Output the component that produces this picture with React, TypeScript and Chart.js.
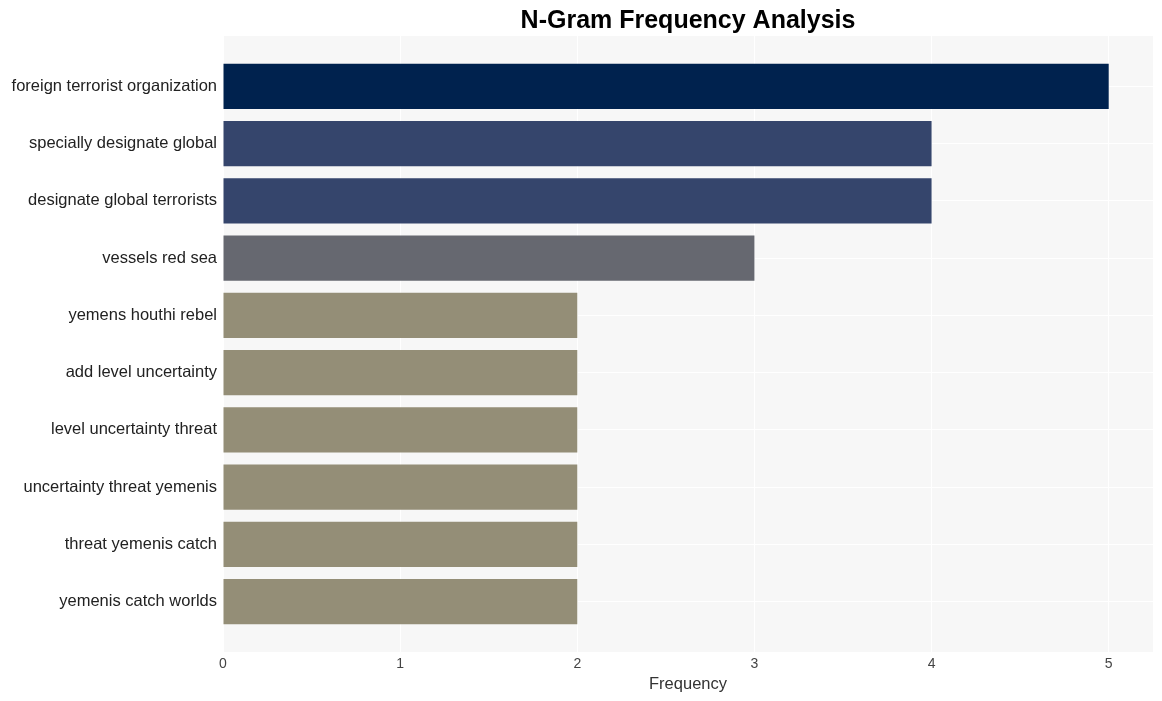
import React, { useEffect, useRef } from "react";
import { Chart, registerables } from "chart.js";

Chart.register(...registerables);

const categories = [
  "foreign terrorist organization",
  "specially designate global",
  "designate global terrorists",
  "vessels red sea",
  "yemens houthi rebel",
  "add level uncertainty",
  "level uncertainty threat",
  "uncertainty threat yemenis",
  "threat yemenis catch",
  "yemenis catch worlds",
];
const frequencies = [5, 4, 4, 3, 2, 2, 2, 2, 2, 2];
const barColors = [
  "#00224e",
  "#35456c",
  "#35456c",
  "#666870",
  "#948e77",
  "#948e77",
  "#948e77",
  "#948e77",
  "#948e77",
  "#948e77",
];
const xTicks = [0, 1, 2, 3, 4, 5];
const titleText = "N-Gram Frequency Analysis";
const xTitle = "Frequency";

const FONT = "'Liberation Sans', Arial, sans-serif";

export default function App() {
  const ref = useRef<HTMLCanvasElement | null>(null);

  useEffect(() => {
    if (!ref.current) return;
    const bgPlugin = {
      id: "panelBg",
      beforeDraw(chart: any) {
        const { ctx, chartArea } = chart;
        ctx.save();
        ctx.fillStyle = "#f7f7f7";
        ctx.fillRect(chartArea.left, chartArea.top, chartArea.right - chartArea.left, chartArea.bottom - chartArea.top);
        ctx.restore();
      },
      afterDraw(chart: any) {
        const { ctx, chartArea } = chart;
        ctx.save();
        ctx.fillStyle = "#000000";
        ctx.font = `bold 25px ${FONT}`;
        ctx.textAlign = "center";
        ctx.textBaseline = "middle";
        ctx.fillText(titleText, (chartArea.left + chartArea.right) / 2, 21);
        ctx.restore();
      },
    };

    const chart = new Chart(ref.current, {
      type: "bar",
      data: {
        datasets: [
          {
            data: frequencies.map((v, i) => ({ x: v, y: i })),
            backgroundColor: barColors,
            borderWidth: 0,
            categoryPercentage: 1,
            barPercentage: 0.79,
          },
        ],
      },
      options: {
        indexAxis: "y",
        animation: false,
        responsive: true,
        maintainAspectRatio: false,
        layout: { padding: { top: 36, right: 9, left: 0, bottom: 7 } },
        plugins: {
          legend: { display: false },
          title: { display: false },
          tooltip: { enabled: false },
        },
        scales: {
          x: {
            type: "linear",
            min: 0,
            max: 5.25,
            offset: false,
            afterBuildTicks(scale: any) {
              scale.ticks = xTicks.map((v) => ({ value: v }));
            },
            afterFit(scale: any) {
              scale.height = 42;
            },
            grid: { color: "#ffffff", lineWidth: 1, drawTicks: false, offset: false },
            border: { display: false },
            ticks: {
              color: "#444444",
              font: { family: FONT, size: 14 },
              padding: 4,
            },
            title: {
              display: true,
              text: xTitle,
              color: "#333333",
              font: { family: FONT, size: 16.5 },
              padding: { top: 2, bottom: 0 },
            },
          },
          y: {
            type: "linear",
            reverse: true,
            offset: false,
            min: -0.88,
            max: 9.88,
            afterBuildTicks(scale: any) {
              scale.ticks = categories.map((_, i) => ({ value: i }));
            },
            afterFit(scale: any) {
              scale.width = 223;
            },
            grid: { color: "#ffffff", lineWidth: 1, drawTicks: false, offset: false },
            border: { display: false },
            ticks: {
              color: "#222222",
              font: { family: FONT, size: 16.5 },
              padding: 6,
              autoSkip: false,
              callback: (v: any) => categories[v as number] ?? "",
            },
          },
        },
      },
      plugins: [bgPlugin],
    } as any);
    return () => chart.destroy();
  }, []);

  return (
    <div style={{ position: "fixed", left: 0, top: 0, width: 1162, height: 701, background: "#ffffff" }}>
      <canvas ref={ref} />
    </div>
  );
}
